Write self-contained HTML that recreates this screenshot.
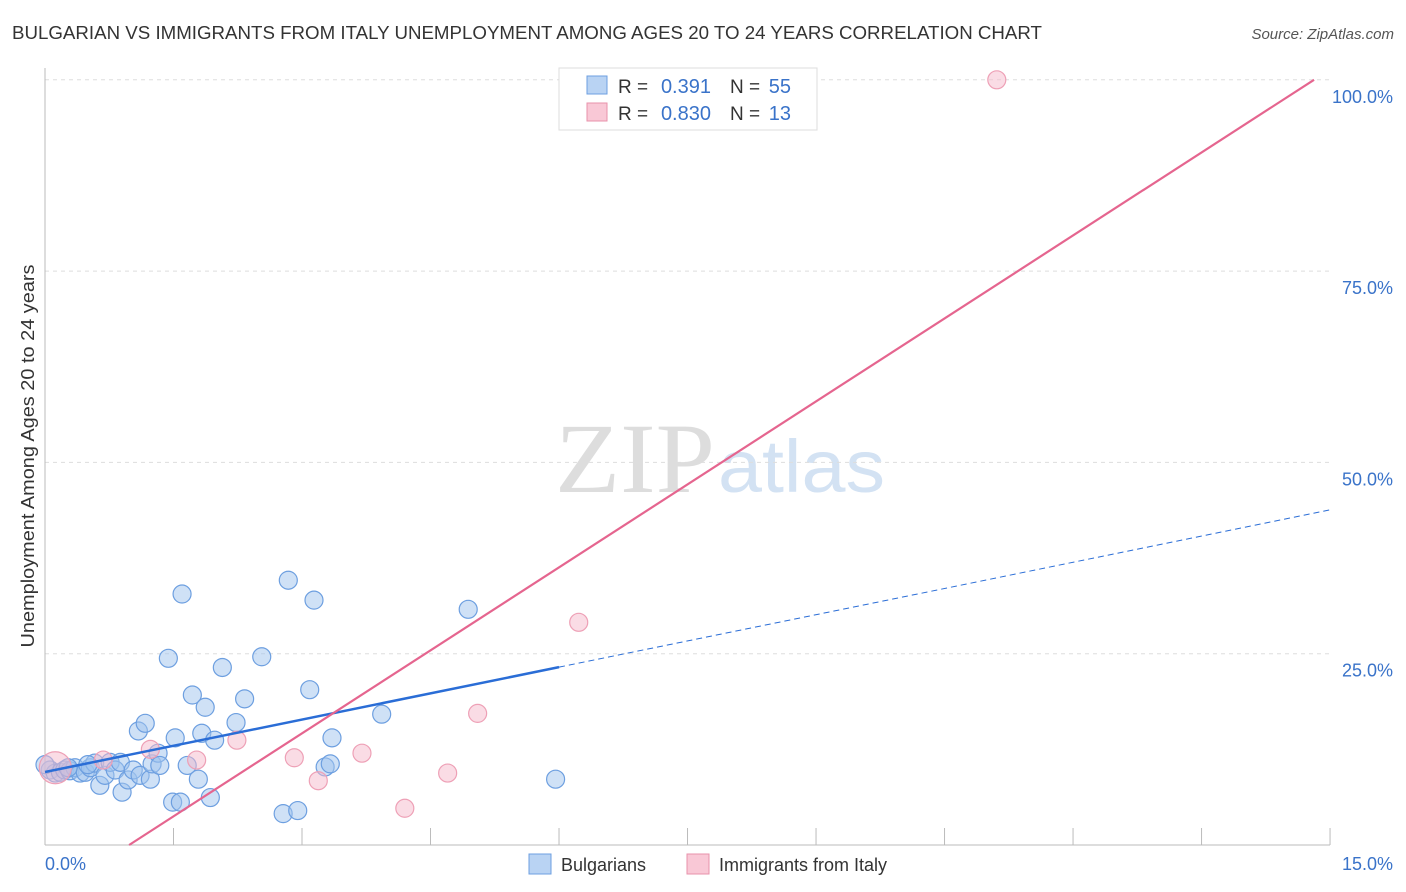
<!DOCTYPE html>
<html><head><meta charset="utf-8"><style>
body{margin:0;background:#fff;font-family:"Liberation Sans",sans-serif}
svg{display:block}
</style></head><body>
<svg id="chart" width="1406" height="892">
<text x="12" y="39" font-size="18" fill="#333" textLength="1030" lengthAdjust="spacingAndGlyphs">BULGARIAN VS IMMIGRANTS FROM ITALY UNEMPLOYMENT AMONG AGES 20 TO 24 YEARS CORRELATION CHART</text>
<text x="1394" y="39" font-size="15" fill="#555" text-anchor="end" font-style="italic">Source: ZipAtlas.com</text>
<text x="555" y="492" font-size="100" fill="#ddd" textLength="160" lengthAdjust="spacingAndGlyphs" font-family="Liberation Serif,serif">ZIP</text>
<text x="718" y="492" font-size="74" fill="#d3e2f3" textLength="167" lengthAdjust="spacingAndGlyphs">atlas</text>
<g id="grid"></g><g id="pts"></g><g id="lines"></g>
<text transform="translate(34,456) rotate(-90)" font-size="18" fill="#333" text-anchor="middle" textLength="383" lengthAdjust="spacingAndGlyphs">Unemployment Among Ages 20 to 24 years</text>
<text x="45" y="870" font-size="18" fill="#3a73c9">0.0%</text>
<text x="1393" y="870" font-size="18" fill="#3a73c9" text-anchor="end">15.0%</text>
<g>
<rect x="559" y="68" width="258" height="62" fill="#fff" stroke="#ddd"/>
<rect x="587" y="76" width="20" height="18" fill="#b9d3f3" stroke="#6d9fe0"/>
<rect x="587" y="103" width="20" height="18" fill="#f9c8d6" stroke="#e892ab"/>
<text x="618" y="93" font-size="19" fill="#333">R =</text>
<text x="711" y="93" font-size="20" fill="#3a73c9" text-anchor="end">0.391</text>
<text x="730" y="93" font-size="19" fill="#333">N =</text>
<text x="791" y="93" font-size="20" fill="#3a73c9" text-anchor="end">55</text>
<text x="618" y="120" font-size="19" fill="#333">R =</text>
<text x="711" y="120" font-size="20" fill="#3a73c9" text-anchor="end">0.830</text>
<text x="730" y="120" font-size="19" fill="#333">N =</text>
<text x="791" y="120" font-size="20" fill="#3a73c9" text-anchor="end">13</text>
</g>
<g>
<rect x="529" y="854" width="22" height="20" fill="#b9d3f3" stroke="#6d9fe0"/>
<text x="561" y="871" font-size="18" fill="#333">Bulgarians</text>
<rect x="687" y="854" width="22" height="20" fill="#f9c8d6" stroke="#e892ab"/>
<text x="719" y="871" font-size="18" fill="#333">Immigrants from Italy</text>
</g>
</svg>
<script>
const yTicks=[25,50,75,100];
const yTickLabels=["25.0%","50.0%","75.0%","100.0%"];
const xTicks=[1.5,3,4.5,6,7.5,9,10.5,12,13.5,15];
const blueX=[0.06,0.12,0.18,0.23,0.29,0.35,0.41,0.47,0.53,0.58,0.64,0.70,0.76,0.82,0.88,0.9,0.97,1.03,1.09,1.11,1.17,1.23,1.25,1.32,1.34,1.44,1.52,1.49,1.58,1.60,1.66,1.72,1.79,1.83,1.87,1.93,1.98,2.07,2.23,2.33,2.53,2.78,2.84,2.95,3.09,3.14,3.27,3.33,3.35,3.93,4.94,5.96,0.0,0.27,0.50];
const blueY=[9.8,9.4,9.5,9.8,9.7,10.1,9.4,9.5,10.1,10.7,7.8,9.1,10.8,9.8,10.8,6.9,8.5,9.8,14.9,9.1,15.9,8.6,10.6,12.0,10.4,24.4,14.0,5.6,5.6,32.8,10.4,19.6,8.6,14.6,18.0,6.2,13.7,23.2,16.0,19.1,24.6,4.1,34.6,4.5,20.3,32.0,10.2,10.6,14.0,17.1,30.8,8.6,10.5,10.1,10.5];
const pinkX=[0.12,0.68,1.23,1.77,2.24,2.91,3.19,3.70,4.20,4.70,5.05,6.23,11.11];
const pinkY=[10.1,11.1,12.5,11.1,13.7,11.4,8.4,12.0,4.8,9.4,17.2,29.1,100.0];
const pinkR=[16,9,9,9,9,9,9,9,9,9,9,9,9];
const blueLine=[9.54,43.8], pinkLine=[-7.1,7.23];
const NS='http://www.w3.org/2000/svg';
const X=v=>45+v*85.67, Y=v=>845-v*7.652;
function mk(t,a,p){const e=document.createElementNS(NS,t);for(const k in a)e.setAttribute(k,a[k]);document.getElementById(p).appendChild(e);return e;}
yTicks.forEach((t,i)=>{
 const g=mk('line',{x1:45,x2:1330,y1:Y(t),y2:Y(t),stroke:'#ddd','stroke-dasharray':'4,4'},'grid');
 
 
 const l=mk('text',{x:1393,y:Y(t)+23,'font-size':18,fill:'#3a73c9','text-anchor':'end'},'grid');
 l.textContent=yTickLabels[i];
 
 
});
const ax=mk('line',{x1:45,x2:45,y1:68,y2:845,stroke:'#bbb'},'grid');


const bx=mk('line',{x1:45,x2:1330,y1:845,y2:845,stroke:'#bbb'},'grid');


xTicks.forEach(t=>{
 const e=mk('line',{x1:X(t),x2:X(t),y1:828,y2:845,stroke:'#bbb'},'grid');
 
 
});
blueX.forEach((v,i)=>{
 const c=mk('circle',{cx:X(v),cy:Y(blueY[i]),r:9,fill:'rgba(160,196,238,0.5)',stroke:'#6d9fe0','stroke-width':1.2},'pts');
 
 
});
pinkX.forEach((v,i)=>{
 const c=mk('circle',{cx:X(v),cy:Y(pinkY[i]),r:pinkR[i],fill:'rgba(246,185,203,0.5)',stroke:'#eea0b6','stroke-width':1.2},'pts');
 
 
});
const by=x=>blueLine[0]+(blueLine[1]-blueLine[0])*x/15;
let l1=mk('line',{x1:X(0),y1:Y(by(0)),x2:X(6),y2:Y(by(6)),stroke:'#2a6dd6','stroke-width':2.5},'lines');


let l2=mk('line',{x1:X(6),y1:Y(by(6)),x2:X(15),y2:Y(by(15)),stroke:'#2a6dd6','stroke-width':1,'stroke-dasharray':'6,4'},'lines');


const px0=-pinkLine[0]/pinkLine[1], px1=(100-pinkLine[0])/pinkLine[1];
let l3=mk('line',{x1:X(px0),y1:Y(0),x2:X(px1),y2:Y(100),stroke:'#e5658f','stroke-width':2.2},'lines');


</script>
</body></html>
